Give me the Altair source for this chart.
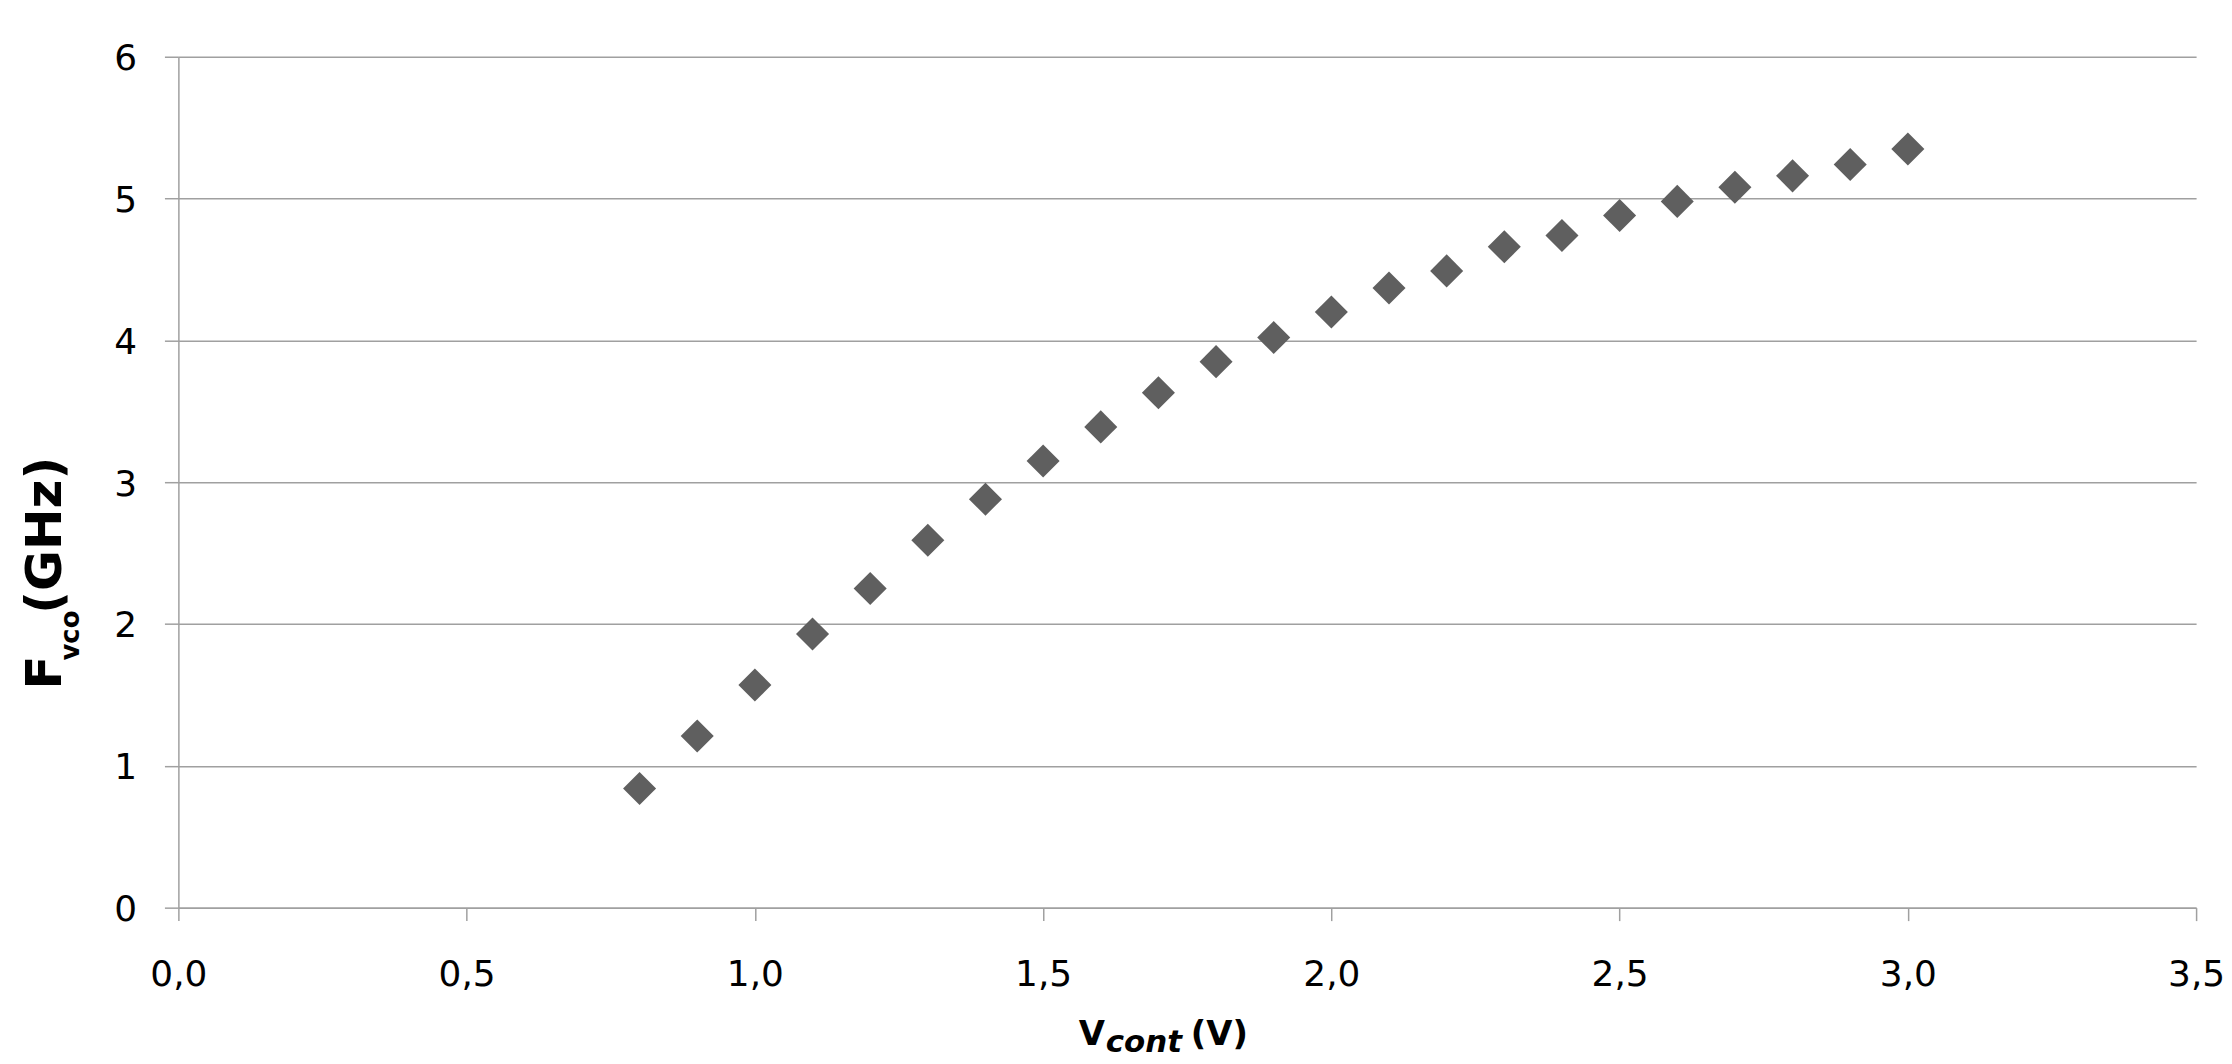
import altair as alt
import pandas as pd

# ---- data ----
v_cont = [0.8, 0.9, 1.0, 1.1, 1.2, 1.3, 1.4, 1.5, 1.6, 1.7, 1.8, 1.9,
          2.0, 2.1, 2.2, 2.3, 2.4, 2.5, 2.6, 2.7, 2.8, 2.9, 3.0]
f_vco = [0.84, 1.21, 1.57, 1.93, 2.25, 2.59, 2.88, 3.15, 3.39, 3.63, 3.85, 4.02,
         4.20, 4.37, 4.49, 4.66, 4.74, 4.88, 4.98, 5.08, 5.16, 5.24, 5.35]
x_ticks = [0.0, 0.5, 1.0, 1.5, 2.0, 2.5, 3.0, 3.5]
y_ticks = [0, 1, 2, 3, 4, 5, 6]

df = pd.DataFrame({"v": v_cont, "f": f_vco})

PLOT_W, PLOT_H = 2025, 854
GRID = "#a0a0a0"
FONT = "DejaVu Sans"

points = alt.Chart(df).mark_point(
    shape="diamond", filled=True, size=1100, color="#5f5f5f", opacity=1, strokeWidth=0
).encode(
    x=alt.X("v:Q", scale=alt.Scale(domain=[0, 3.5], nice=False, zero=False),
            axis=alt.Axis(values=x_ticks, title=None, grid=False,
                          labelExpr="replace(format(datum.value, '.1f'), '.', ',')",
                          tickSize=13, tickColor=GRID, tickWidth=1.5,
                          domainColor=GRID, domainWidth=1.5,
                          labelPadding=37, labelFontSize=36, labelFont=FONT,
                          labelColor="#000000", labelFlush=False, labelOverlap=False)),
    y=alt.Y("f:Q", scale=alt.Scale(domain=[0, 6], nice=False),
            axis=alt.Axis(values=y_ticks, title=None, grid=True, gridColor=GRID, gridWidth=1.5,
                          tickSize=14, tickColor=GRID, tickWidth=1.5,
                          domainColor=GRID, domainWidth=1.5,
                          labelPadding=28, labelFontSize=36, labelFont=FONT,
                          labelColor="#000000", labelOffset=2, labelFlush=False,
                          labelOverlap=False)),
)


def txt(s, x, y, size, angle=0, italic=False):
    kw = dict(align="left", baseline="alphabetic", font=FONT, fontSize=size,
              fontWeight="bold", color="#000000")
    if angle:
        kw["angle"] = angle
    if italic:
        kw["fontStyle"] = "italic"
    return alt.Chart(pd.DataFrame({"t": [s]})).mark_text(**kw).encode(
        text="t:N", x=alt.value(x), y=alt.value(y))


titles = [
    # y-axis title  F_vco(GHz)
    txt("F", -117.6, 635, 50, angle=270),
    txt("vco", -99.3, 606, 26, angle=270),
    txt("(GHz)", -117.6, 559, 50, angle=270),
    # x-axis title  V_cont (V)
    txt("V", 903.7, 992, 34),
    txt("cont", 930.7, 999, 31, italic=True),
    txt("(V)", 1016, 992, 34),
]

chart = alt.layer(points, *titles).properties(
    width=PLOT_W, height=PLOT_H,
    autosize=alt.AutoSizeParams(type="none"),
    padding={"left": 171, "top": 47, "right": 28, "bottom": 155},
    background="white",
).configure_view(stroke=None)

chart.save("out.html", embed_options={"renderer": "svg", "actions": False})
